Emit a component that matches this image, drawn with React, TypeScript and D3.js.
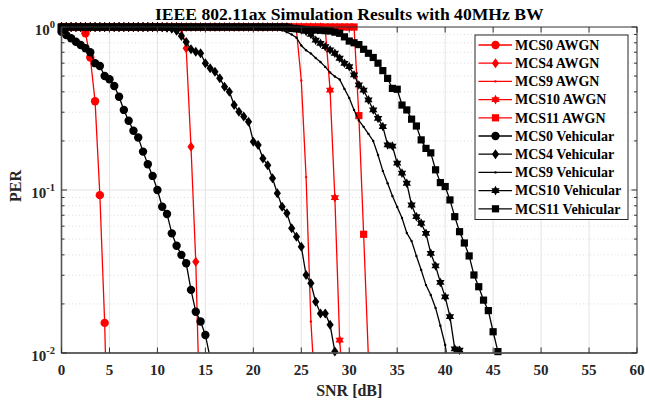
import * as d3 from 'd3';

const RED = '#ff0000';
const BLACK = '#000000';
const FONT = "'Liberation Serif', 'DejaVu Serif', serif";

// SNR grid of the simulation (dB), 0.5 dB steps
const SNR_DB = [
  0, 0.5, 1, 1.5, 2, 2.5, 3, 3.5, 4, 4.5, 5, 5.5, 6, 6.5, 7, 7.5, 8, 8.5, 9, 9.5,
  10, 10.5, 11, 11.5, 12, 12.5, 13, 13.5, 14, 14.5, 15, 15.5, 16, 16.5, 17, 17.5, 18, 18.5, 19, 19.5,
  20, 20.5, 21, 21.5, 22, 22.5, 23, 23.5, 24, 24.5, 25, 25.5, 26, 26.5, 27, 27.5, 28, 28.5, 29, 29.5,
  30, 30.5, 31, 31.5, 32, 32.5, 33, 33.5, 34, 34.5, 35, 35.5, 36, 36.5, 37, 37.5, 38, 38.5, 39, 39.5,
  40, 40.5, 41, 41.5, 42, 42.5, 43, 43.5, 44, 44.5, 45, 45.5,
];

// PER values, aligned with SNR_DB from 0 dB
const MCS0_AWGN = [1, 1, 1, 1, 1, 0.915, 0.65, 0.35, 0.093, 0.0153, 0.001];
const MCS4_AWGN = [
  1, 1, 1, 1, 1, 1, 1, 1, 1, 1, 1, 1, 1, 1, 1, 1, 1, 1, 1, 1, 1, 1, 1, 1, 1,
  0.99, 0.74, 0.184, 0.0363, 0.0027,
];
const MCS9_AWGN = [
  1, 1, 1, 1, 1, 1, 1, 1, 1, 1, 1, 1, 1, 1, 1, 1, 1, 1, 1, 1,
  1, 1, 1, 1, 1, 1, 1, 1, 1, 1, 1, 1, 1, 1, 1, 1, 1, 1, 1, 1,
  1, 1, 1, 1, 1, 1, 1, 1, 1,
  0.95, 0.47, 0.12, 0.0156, 0.005,
];
const MCS10_AWGN = [
  1, 1, 1, 1, 1, 1, 1, 1, 1, 1, 1, 1, 1, 1, 1, 1, 1, 1, 1, 1,
  1, 1, 1, 1, 1, 1, 1, 1, 1, 1, 1, 1, 1, 1, 1, 1, 1, 1, 1, 1,
  1, 1, 1, 1, 1, 1, 1, 1, 1, 1, 1, 1, 1, 1, 1,
  0.97, 0.41, 0.0897, 0.012, 0.0048,
];
const MCS11_AWGN = [
  1, 1, 1, 1, 1, 1, 1, 1, 1, 1, 1, 1, 1, 1, 1, 1, 1, 1, 1, 1,
  1, 1, 1, 1, 1, 1, 1, 1, 1, 1, 1, 1, 1, 1, 1, 1, 1, 1, 1, 1,
  1, 1, 1, 1, 1, 1, 1, 1, 1, 1, 1, 1, 1, 1, 1, 1, 1, 1, 1, 1, 1, 1,
  0.286, 0.0535, 0.0093,
];
const MCS0_VEH = [
  0.935, 0.893, 0.853, 0.812, 0.775, 0.74, 0.7, 0.6, 0.576, 0.5,
  0.478, 0.435, 0.373, 0.31, 0.266, 0.231, 0.21, 0.172, 0.144, 0.122,
  0.1, 0.079, 0.0713, 0.0542, 0.0455, 0.04, 0.0355, 0.0244, 0.0179, 0.0156,
  0.0129, 0.0093,
];
const MCS4_VEH = [
  1, 1, 1, 1, 1, 1, 1, 1, 1, 1, 1, 1, 1, 1, 1, 1, 1, 1, 1, 1, 1,
  0.995, 0.99, 0.975, 0.95, 0.88, 0.81, 0.73, 0.705, 0.69, 0.6,
  0.558, 0.532, 0.485, 0.43, 0.401, 0.332, 0.302, 0.282, 0.262, 0.198,
  0.189, 0.156, 0.142, 0.118, 0.0955, 0.079, 0.072, 0.0582, 0.0517, 0.0449,
  0.0301, 0.0268, 0.0206, 0.0175, 0.0175, 0.0149, 0.0102,
];
const MCS9_VEH = [
  1, 1, 1, 1, 1, 1, 1, 1, 1, 1, 1, 1, 1, 1, 1, 1, 1, 1, 1, 1,
  1, 1, 1, 1, 1, 1, 1, 1, 1, 1, 1, 1, 1, 1, 1, 1, 1, 1, 1, 1,
  0.998, 0.996, 0.993, 0.99, 0.985, 0.97, 0.955, 0.93, 0.9, 0.86,
  0.77, 0.72, 0.688, 0.645, 0.61, 0.569, 0.526, 0.497, 0.476, 0.417,
  0.367, 0.31, 0.267, 0.244, 0.221, 0.2, 0.164, 0.131, 0.11, 0.0919,
  0.0787, 0.0673, 0.0545, 0.0486, 0.0394, 0.0323, 0.0261, 0.0227, 0.0189, 0.0147,
  0.0112, 0.0071,
];
const MCS10_VEH = [
  1, 1, 1, 1, 1, 1, 1, 1, 1, 1, 1, 1, 1, 1, 1, 1, 1, 1, 1, 1,
  1, 1, 1, 1, 1, 1, 1, 1, 1, 1, 1, 1, 1, 1, 1, 1, 1, 1, 1, 1,
  1, 1, 1, 1, 1, 1, 1, 1,
  0.99, 0.975, 0.96, 0.94, 0.9, 0.83, 0.794, 0.757, 0.723, 0.69,
  0.643, 0.599, 0.571, 0.508, 0.441, 0.41, 0.357, 0.31, 0.275, 0.245,
  0.189, 0.186, 0.146, 0.127, 0.11, 0.0809, 0.0686, 0.0625, 0.0542, 0.0409,
  0.0342, 0.0271, 0.0221, 0.0167, 0.0106, 0.0104,
];
const MCS11_VEH = [
  1, 1, 1, 1, 1, 1, 1, 1, 1, 1, 1, 1, 1, 1, 1, 1, 1, 1, 1, 1,
  1, 1, 1, 1, 1, 1, 1, 1, 1, 1, 1, 1, 1, 1, 1, 1, 1, 1, 1, 1,
  1, 1, 1, 1, 1, 1, 1, 1,
  0.98, 0.975, 0.97, 0.965, 0.96, 0.958, 0.955, 0.95, 0.945, 0.93,
  0.915, 0.87, 0.82, 0.8, 0.78, 0.73, 0.69, 0.65, 0.6, 0.54,
  0.484, 0.42, 0.415, 0.332, 0.31, 0.272, 0.247, 0.203, 0.18, 0.169,
  0.133, 0.111, 0.105, 0.0869, 0.0686, 0.0555, 0.0473, 0.0394, 0.0301, 0.0255,
  0.0211, 0.0182, 0.0135, 0.0102,
];

const SERIES = [
  { name: 'MCS0 AWGN', per: MCS0_AWGN, color: RED, marker: 'o' },
  { name: 'MCS4 AWGN', per: MCS4_AWGN, color: RED, marker: 'd' },
  { name: 'MCS9 AWGN', per: MCS9_AWGN, color: RED, marker: '.' },
  { name: 'MCS10 AWGN', per: MCS10_AWGN, color: RED, marker: 'h' },
  { name: 'MCS11 AWGN', per: MCS11_AWGN, color: RED, marker: 's' },
  { name: 'MCS0 Vehicular', per: MCS0_VEH, color: BLACK, marker: 'o' },
  { name: 'MCS4 Vehicular', per: MCS4_VEH, color: BLACK, marker: 'd' },
  { name: 'MCS9 Vehicular', per: MCS9_VEH, color: BLACK, marker: '.' },
  { name: 'MCS10 Vehicular', per: MCS10_VEH, color: BLACK, marker: 'h' },
  { name: 'MCS11 Vehicular', per: MCS11_VEH, color: BLACK, marker: 's' },
];

const X_TICKS = [0, 5, 10, 15, 20, 25, 30, 35, 40, 45, 50, 55, 60];
const Y_TICKS = [{ v: 1, exp: '0' }, { v: 0.1, exp: '-1' }, { v: 0.01, exp: '-2' }];
const Y_MINOR = [0.02, 0.03, 0.04, 0.05, 0.06, 0.07, 0.08, 0.09, 0.2, 0.3, 0.4, 0.5, 0.6, 0.7, 0.8, 0.9];

const m = { left: 61.5, right: 637, top: 27, bottom: 353 };

function hexagram(r: number) {
  const pts: string[] = [];
  for (let i = 0; i < 12; i++) {
    const a = -Math.PI / 2 + (i * Math.PI) / 6;
    const rr = i % 2 === 0 ? r : r * 0.58;
    pts.push(`${(rr * Math.cos(a)).toFixed(2)},${(rr * Math.sin(a)).toFixed(2)}`);
  }
  return `M${pts.join('L')}Z`;
}

function Marker({ type, x, y, color }: { type: string; x: number; y: number; color: string }) {
  if (type === 'o') return <circle cx={x} cy={y} r={4.2} fill={color} />;
  if (type === 'd')
    return <path d={`M${x},${y - 5}L${x + 3.6},${y}L${x},${y + 5}L${x - 3.6},${y}Z`} fill={color} />;
  if (type === 's') return <rect x={x - 3.6} y={y - 3.6} width={7.2} height={7.2} fill={color} />;
  if (type === 'h') return <path d={hexagram(4.8)} transform={`translate(${x},${y})`} fill={color} />;
  return <circle cx={x} cy={y} r={1.2} fill={color} />;
}

export default function App() {
  const x = d3.scaleLinear().domain([0, 60]).range([m.left, m.right]);
  const y = d3.scaleLog().domain([0.01, 1]).range([m.bottom, m.top]);
  const line = d3.line<[number, number]>().x(d => x(d[0])).y(d => y(d[1]));

  const legendX = 475, legendY = 35, legendW = 153, rowH = 18.2;

  return (
    <svg width={645} height={405} style={{ position: 'absolute', left: 0, top: 0, background: '#fff' }}
      fontFamily={FONT} fontWeight="bold">
      <rect width={645} height={405} fill="#fff" />
      <defs>
        <clipPath id="plot">
          <rect x={m.left} y={m.top} width={m.right - m.left} height={m.bottom - m.top} />
        </clipPath>
      </defs>

      {/* grid */}
      {Y_MINOR.map(v => (
        <line key={v} x1={m.left} x2={m.right} y1={y(v)} y2={y(v)} stroke="#cfcfcf"
          strokeWidth={0.7} strokeDasharray="1,2.5" />
      ))}
      {X_TICKS.slice(1, -1).map(t => (
        <line key={t} x1={x(t)} x2={x(t)} y1={m.top} y2={m.bottom} stroke="#e3e3e3" strokeWidth={1} />
      ))}
      <line x1={m.left} x2={m.right} y1={y(0.1)} y2={y(0.1)} stroke="#e3e3e3" strokeWidth={1} />

      {/* curves */}
      {SERIES.map(s => {
        const pts = s.per.map((p, i) => [SNR_DB[i], p] as [number, number]);
        return (
          <g key={s.name}>
            <path d={line(pts) ?? ''} fill="none" stroke={s.color} strokeWidth={1.3}
              clipPath="url(#plot)" />
            {pts.filter(d => d[1] >= 0.01).map((d, i) => (
              <Marker key={i} type={s.marker} x={x(d[0])} y={y(d[1])} color={s.color} />
            ))}
          </g>
        );
      })}

      {/* axes box and ticks */}
      <rect x={m.left} y={m.top} width={m.right - m.left} height={m.bottom - m.top}
        fill="none" stroke="#333" strokeWidth={1} />
      <line x1={m.left} x2={m.left} y1={m.top} y2={m.bottom} stroke="#555" strokeWidth={1.6} />
      <line x1={m.left} x2={m.right} y1={m.bottom} y2={m.bottom} stroke="#555" strokeWidth={1.6} />
      {X_TICKS.map(t => (
        <g key={t}>
          <line x1={x(t)} x2={x(t)} y1={m.bottom} y2={m.bottom - 5.5} stroke="#333" />
          <line x1={x(t)} x2={x(t)} y1={m.top} y2={m.top + 5.5} stroke="#333" />
          <text x={x(t)} y={374.5} textAnchor="middle" fontSize={15} fill="#262626">{t}</text>
        </g>
      ))}
      {Y_TICKS.map(t => (
        <g key={t.v}>
          <line x1={m.left} x2={m.left + 5.5} y1={y(t.v)} y2={y(t.v)} stroke="#333" />
          <line x1={m.right} x2={m.right - 5.5} y1={y(t.v)} y2={y(t.v)} stroke="#333" />
          <text x={55} y={y(t.v) + 7.5} textAnchor="end" fontSize={15} fill="#262626">
            <tspan>10</tspan>
            <tspan dy={-7} fontSize={10.5}>{t.exp}</tspan>
          </text>
        </g>
      ))}
      {Y_MINOR.map(v => (
        <g key={v}>
          <line x1={m.left} x2={m.left + 3} y1={y(v)} y2={y(v)} stroke="#333" />
          <line x1={m.right} x2={m.right - 3} y1={y(v)} y2={y(v)} stroke="#333" />
        </g>
      ))}

      {/* labels */}
      <text x={(m.left + m.right) / 2} y={19.5} textAnchor="middle" fontSize={17.6} fill="#000">
        IEEE 802.11ax Simulation Results with 40MHz BW
      </text>
      <text x={(m.left + m.right) / 2} y={396} textAnchor="middle" fontSize={16} fill="#262626">
        SNR [dB]
      </text>
      <text transform={`translate(21,186) rotate(-90)`} textAnchor="middle" fontSize={16} fill="#262626">
        PER
      </text>

      {/* legend */}
      <rect x={legendX} y={legendY} width={legendW} height={rowH * SERIES.length + 2.5}
        fill="#fff" stroke="#262626" strokeWidth={1} />
      {SERIES.map((s, i) => {
        const cy = legendY + 10 + i * rowH;
        return (
          <g key={s.name}>
            <line x1={478.5} x2={512} y1={cy} y2={cy} stroke={s.color} strokeWidth={1.3} />
            <Marker type={s.marker} x={495.5} y={cy} color={s.color} />
            <text x={515} y={cy + 4.8} fontSize={14} fill="#000">{s.name}</text>
          </g>
        );
      })}
    </svg>
  );
}
